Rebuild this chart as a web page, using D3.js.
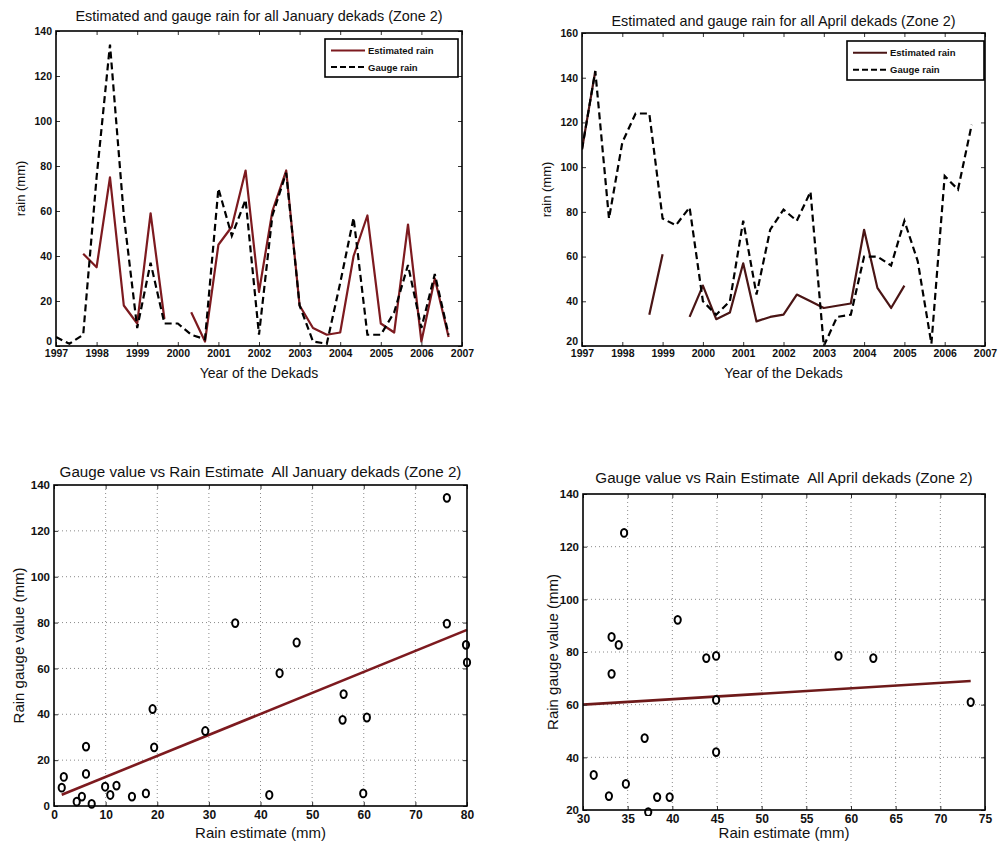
<!DOCTYPE html>
<html><head><meta charset="utf-8">
<script src="https://cdn.jsdelivr.net/npm/d3@7"></script>
<style>body{margin:0;background:#fff} svg text{font-family:"Liberation Sans",Arial,sans-serif;fill:#111;white-space:pre}</style>
</head><body><svg id="c" width="998" height="844"></svg>
<script>
// ---- data ----
const dekadYears = [1997.00,1997.33,1997.67,1998.00,1998.33,1998.67,1999.00,1999.33,1999.67,2000.00,
  2000.33,2000.67,2001.00,2001.33,2001.67,2002.00,2002.33,2002.67,2003.00,2003.33,
  2003.67,2004.00,2004.33,2004.67,2005.00,2005.33,2005.67,2006.00,2006.33,2006.67];
const yearTicks = [1997,1998,1999,2000,2001,2002,2003,2004,2005,2006,2007];
const janGauge = [4,1,5,75,134,58,8,37,10,10,5,3,70,49,65,5,58,77,18,2,1,28,57,5,5,15,36,8,32,5];
const janEstimate = [null,null,41,35,75,18,10,59,12,null,15,2,45,53,78,24,60,78,18,8,5,6,40,58,10,6,54,2,30,4];
const aprGauge = [108,143,77,111,124,124,77,74,82,40,34,40,76,43,72,81,76,89,20,33,34,60,60,56,76,58,21,96,90,119];
const aprEstimate = [108,143,null,null,null,34,61,null,33,47,32,35,57,31,33,34,43,40,37,38,39,72,46,37,47,null,null,null,null,null];

const janScatterEstimate = [1.5,1.9,6.2,6.2,4.4,5.4,7.3,9.9,10.9,12.1,15.1,17.8,19.1,19.4,29.3,47.0,43.7,56.1,55.9,60.6,41.7,59.9,79.8,80.0,35.1,76.1,76.1];
const janScatterGauge   = [8,12.7,25.9,14,1.9,4.1,0.9,8.4,4.8,8.9,4.1,5.5,42.3,25.6,32.7,71.3,57.9,48.8,37.6,38.6,4.8,5.5,70.3,62.6,79.8,134.4,79.5];
const janFitX = [1.5, 80];
const janFitY = [4.9, 76.8];

const aprScatterEstimate = [31.2,32.9,33.2,33.2,34.0,34.6,34.8,36.9,37.3,38.3,39.7,40.6,43.8,44.9,44.9,44.9,58.6,62.5,73.4];
const aprScatterGauge    = [33.3,25.3,85.7,71.7,82.7,125.2,29.9,47.3,19.2,24.9,24.9,92.2,77.7,61.8,78.5,42.0,78.5,77.7,61.0];
const aprFitX = [30, 73.4];
const aprFitY = [60, 69];

const svg = d3.select("#c");

function frame(g, x, y, xTicks, yTicks, fontX, fontY, liftZero) {
  const [x0,x1] = x.range(), [y0,y1] = y.range();
  g.append("g").attr("transform",`translate(0,${y0})`)
    .call(d3.axisBottom(x).tickValues(xTicks).tickSize(-4).tickPadding(4).tickFormat(d3.format("d")))
    .call(a=>{a.select(".domain").remove();a.selectAll("text").attr("font-size",fontX).attr("font-weight","bold");});
  g.append("g").attr("transform",`translate(0,${y1})`)
    .call(d3.axisTop(x).tickValues(xTicks).tickSize(-4).tickFormat(""))
    .call(a=>a.select(".domain").remove());
  const ya = g.append("g").attr("transform",`translate(${x0},0)`)
    .call(d3.axisLeft(y).tickValues(yTicks).tickSize(-4).tickPadding(4))
    .call(a=>{a.select(".domain").remove();a.selectAll("text").attr("font-size",fontY).attr("font-weight","bold");});
  if (liftZero) ya.selectAll(".tick").filter((d,i)=>i===0).select("text").attr("dy","-0.15em");
  g.append("g").attr("transform",`translate(${x1},0)`)
    .call(d3.axisRight(y).tickValues(yTicks).tickSize(-4).tickFormat(""))
    .call(a=>a.select(".domain").remove());
  g.selectAll(".tick line").attr("stroke","#333");
  g.append("rect").attr("x",x0).attr("y",y1).attr("width",x1-x0).attr("height",y0-y1)
    .attr("fill","none").attr("stroke","#000").attr("stroke-width",1.6);
}

function labels(g, cx, cy, o) {
  g.append("text").attr("x",cx).attr("y",o.titleY).attr("text-anchor","middle").attr("font-size",o.titleSize).text(o.title);
  g.append("text").attr("x",cx).attr("y",o.xlY).attr("text-anchor","middle").attr("font-size",o.xlSize).text(o.xl);
  g.append("text").attr("transform",`translate(${o.ylX},${cy}) rotate(-90)`).attr("text-anchor","middle").attr("font-size",o.ylSize).text(o.yl);
}

function timePanel(o) {
  const g = svg.append("g");
  const x = d3.scaleLinear().domain([1997,2007]).range([o.l,o.r]);
  const y = d3.scaleLinear().domain(o.yDom).range([o.b,o.t]);
  const line = d3.line().defined(d=>d[1]!=null).x(d=>x(d[0])).y(d=>y(d[1]));
  g.append("clipPath").attr("id",o.id).append("rect").attr("x",o.l).attr("y",o.t).attr("width",o.r-o.l).attr("height",o.b-o.t);
  const pl = g.append("g").attr("clip-path",`url(#${o.id})`);
  pl.append("path").datum(dekadYears.map((d,i)=>[d,o.est[i]])).attr("d",line)
    .attr("fill","none").attr("stroke",o.color).attr("stroke-width",2.2).attr("stroke-linejoin","round");
  pl.append("path").datum(dekadYears.map((d,i)=>[d,o.gauge[i]])).attr("d",line)
    .attr("fill","none").attr("stroke","#000").attr("stroke-width",2.2).attr("stroke-dasharray","7,4");
  frame(g, x, y, yearTicks, o.yTicks, 10.5, 10.5, true);
  labels(g, (o.l+o.r)/2, (o.t+o.b)/2, {title:o.title, titleY:o.titleY, titleSize:14.4,
    xl:"Year of the Dekads", xlY:o.b+32, xlSize:14, yl:"rain (mm)", ylX:o.ylX, ylSize:13});
  const L = o.leg;
  const lg = g.append("g");
  lg.append("rect").attr("x",L[0]).attr("y",L[1]).attr("width",L[2]).attr("height",L[3]).attr("fill","#fff").attr("stroke","#000").attr("stroke-width",1.6);
  const ly1 = L[1]+L[3]*0.3, ly2 = L[1]+L[3]*0.74;
  lg.append("line").attr("x1",L[0]+6).attr("x2",L[0]+40).attr("y1",ly1).attr("y2",ly1).attr("stroke",o.color).attr("stroke-width",2);
  lg.append("line").attr("x1",L[0]+6).attr("x2",L[0]+40).attr("y1",ly2).attr("y2",ly2).attr("stroke","#000").attr("stroke-width",2).attr("stroke-dasharray","6,3");
  lg.append("text").attr("x",L[0]+43).attr("y",ly1+3.5).attr("font-size",9.5).attr("font-weight","bold").text("Estimated rain");
  lg.append("text").attr("x",L[0]+43).attr("y",ly2+3.5).attr("font-size",9.5).attr("font-weight","bold").text("Gauge rain");
}

function scatterPanel(o) {
  const g = svg.append("g");
  const x = d3.scaleLinear().domain(o.xDom).range([o.l,o.r]);
  const y = d3.scaleLinear().domain(o.yDom).range([o.b,o.t]);
  g.append("g").selectAll("line").data(o.xTicks.slice(1,-1)).join("line")
    .attr("x1",d=>x(d)).attr("x2",d=>x(d)).attr("y1",o.t).attr("y2",o.b)
    .attr("stroke","#8a8a8a").attr("stroke-width",1).attr("stroke-dasharray","1,3");
  g.append("g").selectAll("line").data(o.yTicks.slice(1,-1)).join("line")
    .attr("y1",d=>y(d)).attr("y2",d=>y(d)).attr("x1",o.l).attr("x2",o.r)
    .attr("stroke","#8a8a8a").attr("stroke-width",1).attr("stroke-dasharray","1,3");
  g.append("clipPath").attr("id",o.id).append("rect").attr("x",o.l-6).attr("y",o.t-6).attr("width",o.r-o.l+12).attr("height",o.b-o.t+12);
  const pl = g.append("g").attr("clip-path",`url(#${o.id})`);
  pl.append("line").attr("x1",x(o.fitX[0])).attr("x2",x(o.fitX[1])).attr("y1",y(o.fitY[0])).attr("y2",y(o.fitY[1]))
    .attr("stroke",o.color).attr("stroke-width",2.6);
  pl.selectAll("ellipse").data(o.ex.map((d,i)=>[d,o.ga[i]])).join("ellipse")
    .attr("cx",d=>x(d[0])).attr("cy",d=>y(d[1])).attr("rx",3.1).attr("ry",3.9)
    .attr("fill","#fff").attr("stroke","#000").attr("stroke-width",2);
  frame(g, x, y, o.xTicks, o.yTicks, 12, 11.5, false);
  labels(g, (o.l+o.r)/2, (o.t+o.b)/2, {title:o.title, titleY:o.titleY, titleSize:15.2,
    xl:"Rain estimate (mm)", xlY:838, xlSize:15, yl:"Rain gauge value (mm)", ylX:o.ylX, ylSize:15});
}

timePanel({id:"c1", l:56, r:462, t:31, b:346, yDom:[0,140], yTicks:d3.range(0,141,20),
  gauge:janGauge, est:janEstimate, color:"#7d1a1f", ylX:25,
  title:"Estimated and gauge rain for all January dekads (Zone 2)", titleY:21, leg:[325,39,133,38]});
timePanel({id:"c2", l:582, r:985, t:33, b:346, yDom:[20,160], yTicks:d3.range(20,161,20),
  gauge:aprGauge, est:aprEstimate, color:"#4a1515", ylX:551,
  title:"Estimated and gauge rain for all April dekads (Zone 2)", titleY:26, leg:[847,41,137,39]});
scatterPanel({id:"c3", l:54, r:467, t:485, b:806, xDom:[0,80], yDom:[0,140], ylX:24,
  xTicks:d3.range(0,81,10), yTicks:d3.range(0,141,20), ex:janScatterEstimate, ga:janScatterGauge,
  fitX:janFitX, fitY:janFitY, color:"#7d1a1f",
  title:"Gauge value vs Rain Estimate  All January dekads (Zone 2)", titleY:477});
scatterPanel({id:"c4", l:583, r:985, t:494, b:810, xDom:[30,75], yDom:[20,140], ylX:558,
  xTicks:d3.range(30,76,5), yTicks:d3.range(20,141,20), ex:aprScatterEstimate, ga:aprScatterGauge,
  fitX:aprFitX, fitY:aprFitY, color:"#6e1a1a",
  title:"Gauge value vs Rain Estimate  All April dekads (Zone 2)", titleY:483});
</script></body></html>
